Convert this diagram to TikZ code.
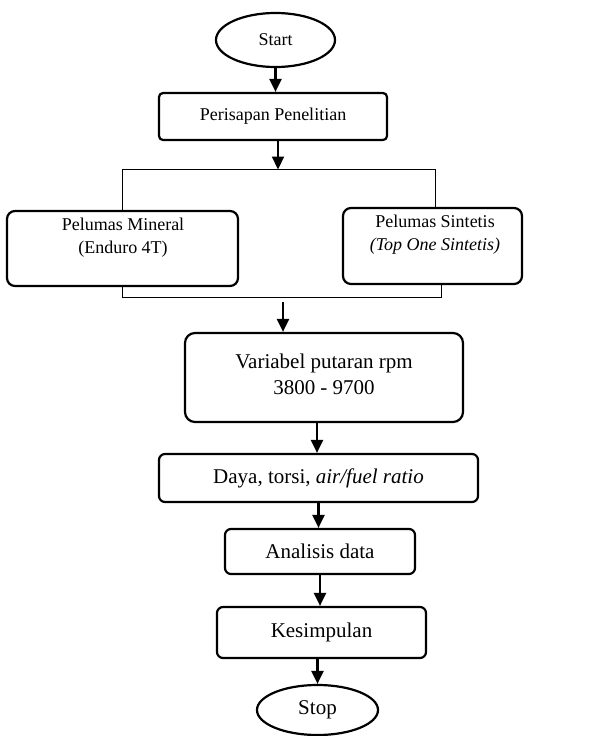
\documentclass[tikz,border=0pt]{standalone}
\usepackage{fontspec}
\setmainfont{Liberation Serif}
\usetikzlibrary{shapes.geometric,arrows.meta}
\begin{document}
\begin{tikzpicture}[x=1pt,y=-1pt,
  every node/.style={font=\fontsize{18}{23}\selectfont},
  big/.style={font=\fontsize{21}{26}\selectfont},
  procbox/.style={draw,line width=2.2pt,inner sep=0pt},
  term/.style={draw,ellipse,line width=2.2pt,inner sep=0pt},
  flow/.style={line width=2.2pt,-{Triangle[length=13pt,width=12pt]}},
  thinline/.style={line width=1pt},
  txt/.style={align=center,inner sep=0pt}]
\useasboundingbox (0,0) rectangle (597,736);

\node[term,minimum width=119pt,minimum height=54pt] (start) at (275.5,40) {Start};
\node[procbox,rounded corners=4pt,minimum width=228pt,minimum height=47pt] (peri) at (273,116.5) {Perisapan Penelitian};
\node[procbox,rounded corners=8pt,minimum width=231pt,minimum height=75pt] (mineral) at (122.5,248.5) {};
\node[txt] (mineraltxt) at (123,238) {Pelumas Mineral\\(Enduro 4T)};
\node[procbox,rounded corners=8pt,minimum width=179pt,minimum height=76pt] (sint) at (432.5,246) {};
\node[txt] (sinttxt) at (435,235) {Pelumas Sintetis\\\textit{(Top One Sintetis)}};
\node[procbox,rounded corners=10pt,minimum width=278pt,minimum height=89pt] (var) at (324,377.5) {};
\node[txt,big] (vartxt) at (324,374) {Variabel putaran rpm\\3800 - 9700};
\node[procbox,big,rounded corners=6pt,minimum width=319pt,minimum height=48pt] (daya) at (318.5,478) {Daya, torsi, \textit{air/fuel ratio}};
\node[procbox,big,rounded corners=6pt,minimum width=190pt,minimum height=45pt] (anal) at (320,551.5) {Analisis data};
\node[procbox,big,rounded corners=6pt,minimum width=209pt,minimum height=51pt] (kes) at (321.5,632.5) {Kesimpulan};
\node[term,big,minimum width=121pt,minimum height=50pt] (stop) at (317.5,710) {Stop};

\coordinate (split) at (278,169.5);
\coordinate (joinR) at (441,297);
\coordinate (merge) at (283,302);

\draw[flow] (start.south) -- (start.south |- peri.north);
\draw[flow] (split |- peri.south) -- (split);
\draw[thinline] (mineral.north) |- (split) -| ([xshift=2.5pt]sint.north);
\draw[thinline] (mineral.south) |- (joinR) -- (joinR |- sint.south);
\draw[flow] (merge) -- (merge |- var.north);
\draw[flow] ([xshift=-7pt]var.south) -- ([xshift=-7pt]var.south |- daya.north);
\draw[flow] (daya.south) -- (daya.south |- anal.north);
\draw[flow] (anal.south) -- (anal.south |- kes.north);
\draw[flow] (stop.north |- kes.south) -- (stop.north);
\end{tikzpicture}
\end{document}
